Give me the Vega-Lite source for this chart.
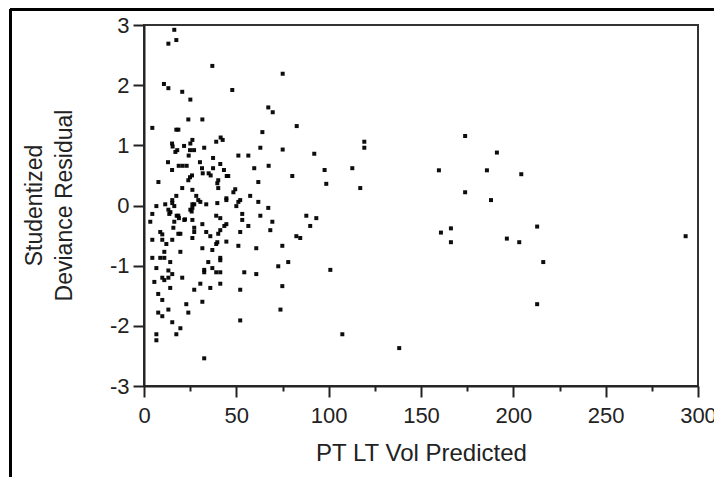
{
  "$schema": "https://vega.github.io/schema/vega-lite/v6.json",
  "width": 554,
  "height": 361,
  "autosize": "none",
  "padding": {"left": 144, "top": 25, "right": 16, "bottom": 91},
  "background": "#ffffff",
  "data": {"values": [
    {"pred":16.4,"resid":2.92},{"pred":13.2,"resid":2.69},{"pred":17.5,"resid":2.75},{"pred":37.0,"resid":2.32},{"pred":75.1,"resid":2.19},
    {"pred":10.8,"resid":2.02},{"pred":13.2,"resid":1.95},{"pred":47.8,"resid":1.92},{"pred":20.7,"resid":1.89},{"pred":25.1,"resid":1.76},
    {"pred":67.3,"resid":1.63},{"pred":69.7,"resid":1.55},{"pred":24.0,"resid":1.43},{"pred":31.6,"resid":1.43},{"pred":4.5,"resid":1.29},
    {"pred":17.5,"resid":1.26},{"pred":18.6,"resid":1.26},{"pred":82.7,"resid":1.32},{"pred":64.1,"resid":1.22},{"pred":41.5,"resid":1.13},
    {"pred":42.6,"resid":1.09},{"pred":39.1,"resid":1.06},{"pred":26.2,"resid":1.09},{"pred":25.1,"resid":1.03},{"pred":15.2,"resid":1.03},
    {"pred":15.5,"resid":0.98},{"pred":17.0,"resid":0.89},{"pred":18.0,"resid":0.92},{"pred":21.7,"resid":0.99},{"pred":24.9,"resid":0.92},
    {"pred":27.1,"resid":0.92},{"pred":32.6,"resid":0.96},{"pred":63.0,"resid":0.96},{"pred":119.3,"resid":1.06},{"pred":119.3,"resid":0.96},
    {"pred":75.1,"resid":0.93},{"pred":24.2,"resid":0.83},{"pred":37.4,"resid":0.79},{"pred":51.1,"resid":0.83},{"pred":56.5,"resid":0.83},
    {"pred":92.2,"resid":0.86},{"pred":13.0,"resid":0.72},{"pred":30.3,"resid":0.72},{"pred":41.3,"resid":0.69},{"pred":18.8,"resid":0.66},
    {"pred":20.9,"resid":0.66},{"pred":23.1,"resid":0.66},{"pred":15.2,"resid":0.59},{"pred":31.4,"resid":0.62},{"pred":37.4,"resid":0.62},
    {"pred":43.3,"resid":0.59},{"pred":31.8,"resid":0.535},{"pred":35.0,"resid":0.535},{"pred":36.1,"resid":0.5},{"pred":24.9,"resid":0.47},
    {"pred":26.0,"resid":0.5},{"pred":44.8,"resid":0.49},{"pred":45.6,"resid":0.49},{"pred":59.7,"resid":0.62},{"pred":67.5,"resid":0.66},
    {"pred":97.8,"resid":0.59},{"pred":80.3,"resid":0.49},{"pred":112.8,"resid":0.62},{"pred":7.8,"resid":0.39},{"pred":24.0,"resid":0.42},
    {"pred":40.2,"resid":0.42},{"pred":39.7,"resid":0.37},{"pred":61.9,"resid":0.39},{"pred":98.7,"resid":0.36},{"pred":117.1,"resid":0.29},
    {"pred":20.7,"resid":0.29},{"pred":26.2,"resid":0.26},{"pred":40.2,"resid":0.29},{"pred":49.4,"resid":0.27},{"pred":48.4,"resid":0.22},
    {"pred":17.5,"resid":0.16},{"pred":28.3,"resid":0.16},{"pred":29.4,"resid":0.09},{"pred":30.5,"resid":0.06},{"pred":44.6,"resid":0.12},
    {"pred":44.6,"resid":0.09},{"pred":57.5,"resid":0.16},{"pred":15.3,"resid":0.09},{"pred":26.2,"resid":0.02},{"pred":27.2,"resid":0.02},
    {"pred":33.7,"resid":0.02},{"pred":11.5,"resid":0.02},{"pred":6.7,"resid":-0.01},{"pred":39.7,"resid":0.04},{"pred":51.1,"resid":0.06},
    {"pred":52.1,"resid":0.09},{"pred":50.0,"resid":-0.01},{"pred":61.9,"resid":0.06},{"pred":67.3,"resid":-0.04},{"pred":13.2,"resid":-0.07},
    {"pred":14.3,"resid":-0.11},{"pred":13.7,"resid":-0.14},{"pred":25.1,"resid":-0.07},{"pred":26.2,"resid":-0.04},{"pred":4.5,"resid":-0.14},
    {"pred":18.6,"resid":-0.17},{"pred":21.8,"resid":-0.24},{"pred":26.2,"resid":-0.24},{"pred":39.1,"resid":-0.17},{"pred":41.3,"resid":-0.21},
    {"pred":44.6,"resid":-0.31},{"pred":43.5,"resid":-0.34},{"pred":53.2,"resid":-0.14},{"pred":53.2,"resid":-0.24},{"pred":63.0,"resid":-0.17},
    {"pred":69.5,"resid":-0.27},{"pred":87.9,"resid":-0.17},{"pred":93.3,"resid":-0.21},{"pred":90.0,"resid":-0.34},{"pred":3.4,"resid":-0.27},
    {"pred":16.4,"resid":-0.27},{"pred":15.9,"resid":-0.37},{"pred":56.5,"resid":-0.34},{"pred":27.2,"resid":-0.37},{"pred":27.2,"resid":-0.44},
    {"pred":33.7,"resid":-0.44},{"pred":35.9,"resid":-0.51},{"pred":41.3,"resid":-0.41},{"pred":40.2,"resid":-0.47},{"pred":52.1,"resid":-0.44},
    {"pred":68.4,"resid":-0.41},{"pred":8.8,"resid":-0.44},{"pred":9.9,"resid":-0.48},{"pred":18.6,"resid":-0.47},{"pred":19.7,"resid":-0.47},
    {"pred":26.2,"resid":-0.54},{"pred":82.5,"resid":-0.51},{"pred":84.6,"resid":-0.54},{"pred":4.5,"resid":-0.57},{"pred":9.9,"resid":-0.57},
    {"pred":15.3,"resid":-0.57},{"pred":31.6,"resid":-0.71},{"pred":37.0,"resid":-0.74},{"pred":39.7,"resid":-0.61},{"pred":39.1,"resid":-0.64},
    {"pred":44.6,"resid":-0.6},{"pred":51.1,"resid":-0.67},{"pred":60.8,"resid":-0.71},{"pred":74.9,"resid":-0.67},{"pred":12.1,"resid":-0.64},
    {"pred":19.7,"resid":-0.77},{"pred":11.0,"resid":-0.77},{"pred":4.5,"resid":-0.87},{"pred":8.8,"resid":-0.87},{"pred":11.0,"resid":-0.87},
    {"pred":14.2,"resid":-0.94},{"pred":34.8,"resid":-0.94},{"pred":41.3,"resid":-0.87},{"pred":41.3,"resid":-0.91},{"pred":78.1,"resid":-0.94},
    {"pred":72.7,"resid":-1.01},{"pred":6.7,"resid":-1.04},{"pred":13.2,"resid":-1.08},{"pred":15.3,"resid":-1.14},{"pred":37.0,"resid":-1.04},
    {"pred":32.6,"resid":-1.07},{"pred":32.6,"resid":-1.11},{"pred":39.1,"resid":-1.11},{"pred":41.3,"resid":-1.11},{"pred":54.3,"resid":-1.11},
    {"pred":60.8,"resid":-1.14},{"pred":100.9,"resid":-1.07},{"pred":9.9,"resid":-1.2},{"pred":11.0,"resid":-1.24},{"pred":13.2,"resid":-1.2},
    {"pred":20.7,"resid":-1.2},{"pred":5.6,"resid":-1.27},{"pred":30.5,"resid":-1.3},{"pred":41.3,"resid":-1.3},{"pred":14.2,"resid":-1.37},
    {"pred":35.9,"resid":-1.37},{"pred":27.2,"resid":-1.4},{"pred":52.1,"resid":-1.4},{"pred":74.9,"resid":-1.34},{"pred":7.7,"resid":-1.47},
    {"pred":9.9,"resid":-1.57},{"pred":22.9,"resid":-1.64},{"pred":31.6,"resid":-1.6},{"pred":13.2,"resid":-1.73},{"pred":73.9,"resid":-1.73},
    {"pred":7.7,"resid":-1.78},{"pred":9.9,"resid":-1.84},{"pred":24.0,"resid":-1.78},{"pred":15.3,"resid":-1.94},{"pred":52.1,"resid":-1.91},
    {"pred":19.7,"resid":-2.04},{"pred":17.5,"resid":-2.14},{"pred":6.7,"resid":-2.14},{"pred":6.7,"resid":-2.24},{"pred":107.4,"resid":-2.14},
    {"pred":32.6,"resid":-2.54},{"pred":173.9,"resid":1.155},{"pred":191.1,"resid":0.88},{"pred":159.7,"resid":0.585},{"pred":185.7,"resid":0.585},
    {"pred":204.3,"resid":0.52},{"pred":173.9,"resid":0.22},{"pred":187.9,"resid":0.09},{"pred":160.8,"resid":-0.45},{"pred":166.2,"resid":-0.38},
    {"pred":166.2,"resid":-0.61},{"pred":212.9,"resid":-0.35},{"pred":196.5,"resid":-0.55},{"pred":203.2,"resid":-0.61},{"pred":293.3,"resid":-0.51},
    {"pred":216.2,"resid":-0.94},{"pred":212.9,"resid":-1.64},{"pred":138.2,"resid":-2.37},{"pred":18.9,"resid":-0.21},{"pred":25.8,"resid":-0.1},
    {"pred":15.3,"resid":0.04},{"pred":16.4,"resid":-0.01},{"pred":31.6,"resid":-0.31},{"pred":17.7,"resid":-0.17},{"pred":22.2,"resid":-0.23}
  ]},
  "layer": [
    {
      "mark": {"type": "point", "shape": "square", "filled": true, "size": 16, "color": "#000000", "opacity": 0.95},
      "encoding": {
        "x": {
          "field": "pred", "type": "quantitative",
          "scale": {"domain": [0, 300], "nice": false, "zero": false},
          "axis": {
            "title": "PT LT Vol Predicted",
            "titleFontSize": 24,
            "values": [0, 25, 50, 75, 100, 125, 150, 175, 200, 225, 250, 275, 300],
            "labelExpr": "datum.value % 50 == 0 ? toString(datum.value) : ''",
            "tickSize": {"condition": {"test": "datum.value % 50 != 0", "value": 5}, "value": 11},
            "labelPadding": 8,
            "titlePadding": 15,
            "labelOverlap": false,
            "labelFlush": false
          }
        },
        "y": {
          "field": "resid", "type": "quantitative",
          "scale": {"domain": [-3, 3], "nice": false, "zero": false},
          "axis": {
            "title": ["Studentized", "Deviance Residual"],
            "values": [-3, -2.5, -2, -1.5, -1, -0.5, 0, 0.5, 1, 1.5, 2, 2.5, 3],
            "labelExpr": "datum.value % 1 == 0 ? toString(datum.value) : ''",
            "tickSize": {"condition": {"test": "datum.value % 1 != 0", "value": 5}, "value": 11},
            "labelPadding": 4,
            "labelOverlap": false,
            "labelFlush": false,
            "titleAngle": -90,
            "titleX": -121,
            "titleY": 180,
            "titleAlign": "center",
            "titleBaseline": "top",
            "titleLineHeight": 30
          }
        }
      }
    },
    {
      "mark": {"type": "rule", "color": "#000000", "strokeWidth": 2.5},
      "encoding": {
        "x": {"datum": -72.4, "type": "quantitative"},
        "x2": {"datum": 310},
        "y": {"datum": 3.258, "type": "quantitative"}
      }
    },
    {
      "mark": {"type": "rule", "color": "#000000", "strokeWidth": 2.5},
      "encoding": {
        "x": {"datum": -72.4, "type": "quantitative"},
        "y": {"datum": 3.258, "type": "quantitative"},
        "y2": {"datum": -4.7}
      }
    }
  ],
  "config": {
    "view": {"stroke": "#333333", "strokeWidth": 2},
    "axis": {
      "grid": false,
      "labelFont": "Liberation Sans",
      "titleFont": "Liberation Sans",
      "labelFontSize": 22,
      "titleFontSize": 23,
      "titleFontWeight": "normal",
      "labelColor": "#222222",
      "titleColor": "#222222",
      "domainColor": "#222222",
      "tickColor": "#222222",
      "domainWidth": 2,
      "tickWidth": 2
    }
  }
}
